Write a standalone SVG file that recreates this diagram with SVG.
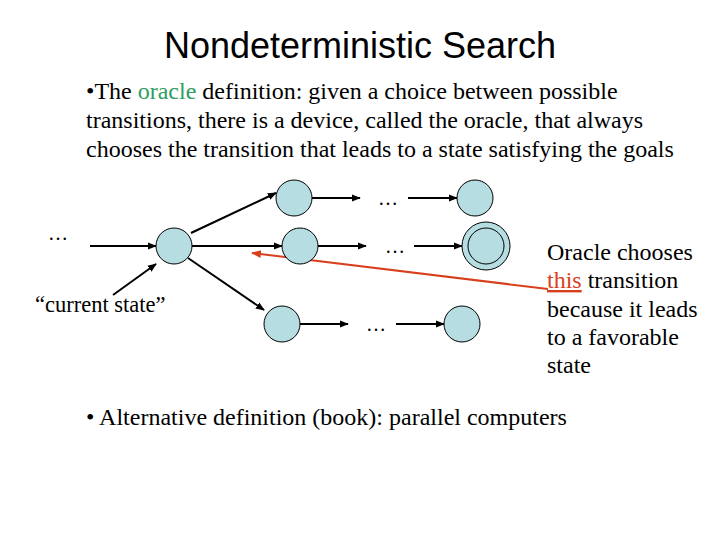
<svg xmlns="http://www.w3.org/2000/svg" width="720" height="540" viewBox="0 0 720 540">
<defs>
<style>
.n{fill:#b5dde2;stroke:#000;stroke-width:1}
.e{stroke:#000;stroke-width:2;fill:none;marker-end:url(#ah)}
</style>
<marker id="ah" viewBox="0 0 10 10" refX="9" refY="5" markerWidth="4.5" markerHeight="4.5" orient="auto" markerUnits="strokeWidth"><path d="M0,1 L10,5 L0,9 z" fill="#000"/></marker>
<marker id="rh" viewBox="0 0 10 10" refX="9" refY="5" markerWidth="5" markerHeight="5" orient="auto" markerUnits="strokeWidth"><path d="M0,1 L10,5 L0,9 z" fill="#d8401c"/></marker>
</defs>
<rect width="720" height="540" fill="#fff"/>
<text x="360" y="58" text-anchor="middle" font-family="Liberation Sans, Arial, sans-serif" font-size="36">Nondeterministic Search</text>
<g font-family="Liberation Serif, Times New Roman, serif" font-size="24" fill="#000">
<text x="86" y="99">•The <tspan fill="#2e9e62">oracle</tspan> definition: given a choice between possible</text>
<text x="86" y="128">transitions, there is a device, called the oracle, that always</text>
<text x="86" y="157">chooses the transition that leads to a state satisfying the goals</text>
<text x="86" y="425">• Alternative definition (book): parallel computers</text>
</g>
<g id="connectors">
<line class="e" x1="90" y1="246" x2="156" y2="246"/>
<line class="e" x1="191" y1="233" x2="276" y2="193"/>
<line class="e" x1="192" y1="246" x2="282" y2="246"/>
<line class="e" x1="188" y1="258" x2="264" y2="310"/>
<line class="e" x1="312" y1="198" x2="360" y2="198"/>
<line class="e" x1="408" y1="198" x2="457" y2="198"/>
<line class="e" x1="318" y1="246" x2="366" y2="246"/>
<line class="e" x1="414" y1="246" x2="462" y2="246"/>
<line class="e" x1="300" y1="324" x2="348" y2="324"/>
<line class="e" x1="396" y1="324" x2="444" y2="324"/>
<line class="e" x1="113" y1="295" x2="156" y2="264"/>
<line x1="548" y1="289" x2="252" y2="253" stroke="#d8401c" stroke-width="2" marker-end="url(#rh)"/>
</g>
<g id="n0"><circle class="n" cx="174" cy="246" r="18"/></g>
<g id="n1"><circle class="n" cx="294" cy="198" r="18"/></g>
<g id="n2"><circle class="n" cx="300" cy="246" r="18"/></g>
<g id="n3"><circle class="n" cx="282" cy="324" r="18"/></g>
<g id="n4"><circle class="n" cx="475" cy="198" r="18"/></g>
<g id="n5"><circle class="n" cx="486" cy="246" r="24"/><circle cx="486" cy="246" r="18" fill="none" stroke="#000" stroke-width="1"/></g>
<g id="n6"><circle class="n" cx="462" cy="324" r="18"/></g>
<g font-family="Liberation Serif, Times New Roman, serif" font-size="20" fill="#000">
<text x="48" y="240">…</text>
<text x="378" y="205">…</text>
<text x="385" y="253">…</text>
<text x="366" y="331">…</text>
<text x="35" y="312" font-size="22.5">“current state”</text>
</g>
<g id="note" font-family="Liberation Serif, Times New Roman, serif" font-size="24" fill="#000">
<text x="547" y="260">Oracle chooses</text>
<text x="547" y="288"><tspan fill="#d8401c" text-decoration="underline">this</tspan> transition</text>
<text x="547" y="317">because it leads</text>
<text x="547" y="345">to a favorable</text>
<text x="547" y="373">state</text>
</g>
</svg>
